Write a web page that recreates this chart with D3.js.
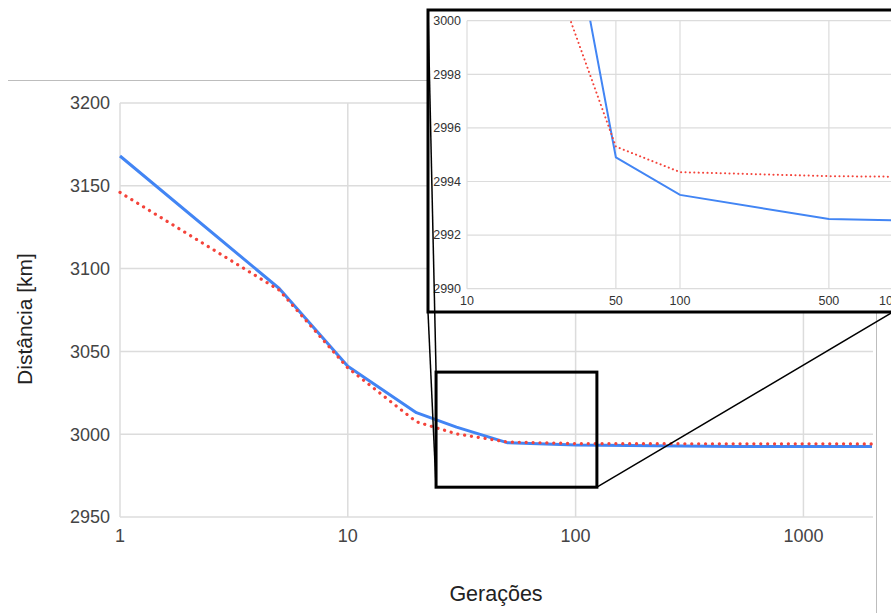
<!DOCTYPE html>
<html lang="pt">
<head>
    <meta charset="UTF-8">
    <title>Distância vs Gerações</title>
    <script src="https://cdn.jsdelivr.net/npm/d3@7"></script>
    <style>
        body { margin: 0; background: #fff; }
        #mainsvg { display: block; font-family: "Liberation Sans", Arial, sans-serif; }
    </style>
</head>
<body>
    <svg width="891" height="613" id="mainsvg"></svg>
    <script>
        // data
        const generations = [1, 5, 10, 20, 30, 50, 100, 500, 1000, 2000]
        const blueSeries = [3168, 3088, 3041, 3013, 3004.3, 2994.9, 2993.5, 2992.6, 2992.55, 2992.5]
        const redSeries = [3146, 3087, 3040, 3007.5, 3000.2, 2995.3, 2994.35, 2994.2, 2994.18, 2994.15]
        const xTicks = [1, 10, 100, 1000]
        const yTicks = [2950, 3000, 3050, 3100, 3150, 3200]
        const insetXTicks = [10, 50, 100, 500, 1000]
        const insetYTicks = [2990, 2992, 2994, 2996, 2998, 3000]
        // zoomed region (data units)
        const zoomX = [24.4, 124]
        const zoomY = [2968, 3037.5]

        const svg = d3.select('#mainsvg')
        const blue = '#4285f4', red = '#f4433a', grid = '#dcdcdc'

        // screenshot frame lines
        svg.append('line').attr('x1', 8).attr('x2', 877).attr('y1', 80.5).attr('y2', 80.5)
            .attr('stroke', '#bdbdbd').attr('stroke-width', 1)
        svg.append('line').attr('x1', 876.5).attr('x2', 876.5).attr('y1', 80).attr('y2', 613)
            .attr('stroke', '#bdbdbd').attr('stroke-width', 1)

        // main chart
        const x = d3.scaleLog().domain([1, 2000]).range([120, 872])
        const y = d3.scaleLinear().domain([2950, 3200]).range([517, 103])
        const g = svg.append('g')

        g.selectAll('.hgrid').data(yTicks).join('line')
            .attr('x1', 120).attr('x2', 873)
            .attr('y1', d => y(d)).attr('y2', d => y(d))
            .attr('stroke', grid).attr('stroke-width', 1.5)
        g.selectAll('.vgrid').data(xTicks).join('line')
            .attr('x1', d => x(d)).attr('x2', d => x(d))
            .attr('y1', 103).attr('y2', 517)
            .attr('stroke', grid).attr('stroke-width', 1.5)

        g.selectAll('.ylab').data(yTicks).join('text')
            .attr('x', 110).attr('y', d => y(d)).attr('dy', '0.35em')
            .attr('text-anchor', 'end').attr('font-size', 18).attr('fill', '#444')
            .text(d => d)
        g.selectAll('.xlab').data(xTicks).join('text')
            .attr('x', d => x(d)).attr('y', 536).attr('dy', '0.35em')
            .attr('text-anchor', 'middle').attr('font-size', 18).attr('fill', '#444')
            .text(d => d)

        g.append('text').attr('x', 496).attr('y', 601)
            .attr('text-anchor', 'middle').attr('font-size', 21.5).attr('fill', '#222')
            .text('Gerações')
        g.append('text').attr('transform', 'translate(25,319) rotate(-90)').attr('dy', '0.35em')
            .attr('text-anchor', 'middle').attr('font-size', 21).attr('fill', '#222')
            .text('Distância [km]')

        const line = d3.line().x((d, i) => x(generations[i])).y(d => y(d))
        g.append('path').attr('d', line(blueSeries)).attr('fill', 'none')
            .attr('stroke', blue).attr('stroke-width', 3).attr('stroke-linejoin', 'round')
        g.append('path').attr('d', line(redSeries)).attr('fill', 'none')
            .attr('stroke', red).attr('stroke-width', 3.2).attr('stroke-linecap', 'round')
            .attr('stroke-dasharray', '0.1 6.8')

        // inset
        const ix = d3.scaleLog().domain([10, 1000]).range([467, 893])
        const iy = d3.scaleLinear().domain([2990, 3000]).range([288.7, 20.7])
        const inset = svg.append('g')
        inset.append('rect').attr('x', 428).attr('y', 10).attr('width', 470).attr('height', 302)
            .attr('fill', '#fff')

        svg.append('clipPath').attr('id', 'insetclip').append('rect')
            .attr('x', 467).attr('y', 20.7).attr('width', 430).attr('height', 268)

        inset.selectAll('.ihgrid').data(insetYTicks).join('line')
            .attr('x1', 467).attr('x2', 895)
            .attr('y1', d => iy(d)).attr('y2', d => iy(d))
            .attr('stroke', grid).attr('stroke-width', 1.2)
        inset.selectAll('.ivgrid').data(insetXTicks).join('line')
            .attr('x1', d => ix(d)).attr('x2', d => ix(d))
            .attr('y1', 20.7).attr('y2', 288.7)
            .attr('stroke', grid).attr('stroke-width', 1.2)
        inset.selectAll('.iylab').data(insetYTicks).join('text')
            .attr('x', 461).attr('y', d => iy(d)).attr('dy', '0.35em')
            .attr('text-anchor', 'end').attr('font-size', 12.5).attr('fill', '#333')
            .text(d => d)
        inset.selectAll('.ixlab').data(insetXTicks).join('text')
            .attr('x', d => ix(d)).attr('y', 301).attr('dy', '0.35em')
            .attr('text-anchor', 'middle').attr('font-size', 12.5).attr('fill', '#333')
            .text(d => d)

        const iline = d3.line().x((d, i) => ix(generations[i])).y(d => iy(d))
        const ilines = inset.append('g').attr('clip-path', 'url(#insetclip)')
        ilines.append('path').attr('d', iline(blueSeries)).attr('fill', 'none')
            .attr('stroke', blue).attr('stroke-width', 2)
        ilines.append('path').attr('d', iline(redSeries)).attr('fill', 'none')
            .attr('stroke', red).attr('stroke-width', 2).attr('stroke-linecap', 'round')
            .attr('stroke-dasharray', '0.1 4.3')

        inset.append('rect').attr('x', 428).attr('y', 10).attr('width', 470).attr('height', 302)
            .attr('fill', 'none').attr('stroke', '#000').attr('stroke-width', 3)

        // connectors and zoom box
        const bx0 = x(zoomX[0]), bx1 = x(zoomX[1]), by0 = y(zoomY[1]), by1 = y(zoomY[0])
        const conn = [[428, 10, bx0, by0], [428, 312, bx0, by1], [bx1, by1, 893, 312]]
        svg.selectAll('.conn').data(conn).join('line')
            .attr('x1', d => d[0]).attr('y1', d => d[1]).attr('x2', d => d[2]).attr('y2', d => d[3])
            .attr('stroke', '#000').attr('stroke-width', 1.5)
        svg.append('rect').attr('x', bx0).attr('y', by0)
            .attr('width', bx1 - bx0).attr('height', by1 - by0)
            .attr('fill', 'none').attr('stroke', '#000').attr('stroke-width', 3)
    </script>
</body>
</html>
